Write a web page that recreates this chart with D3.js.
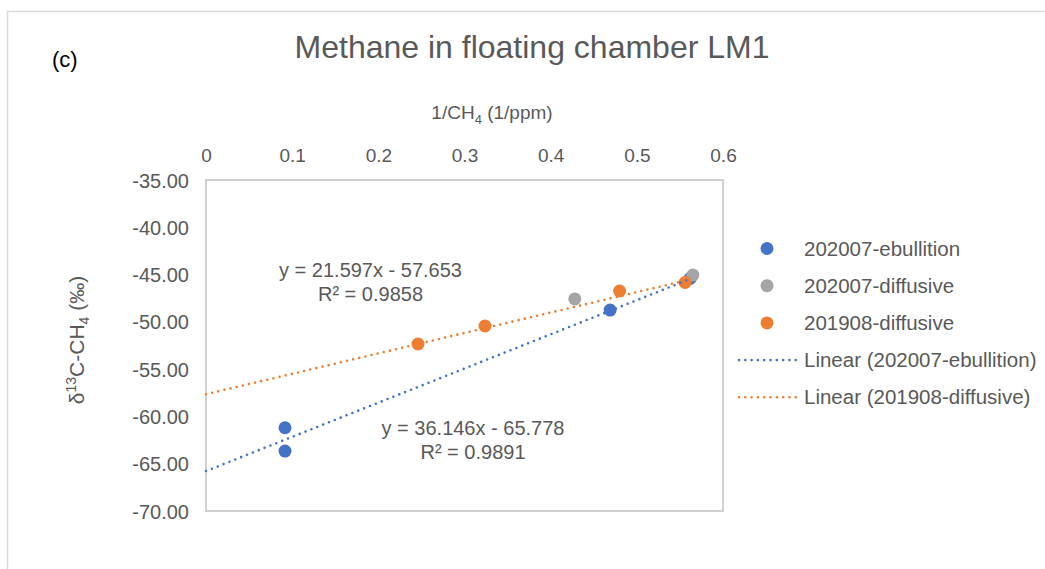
<!DOCTYPE html>
<html>
<head>
<meta charset="utf-8">
<script src="https://cdn.jsdelivr.net/npm/d3@7"></script>
<style>
  html, body { margin: 0; padding: 0; background: #fff; }
  svg { display: block; font-family: "Liberation Sans", Arial, sans-serif; }
</style>
</head>
<body>
<svg id="chart" width="1045" height="569"></svg>
<script>
// Series: 1/CH4 (1/ppm) against δ13C-CH4 (‰)
const ebullition2020X = [0.0917, 0.0917, 0.469, 0.562];
const ebullition2020Y = [-61.2, -63.66, -48.75, -45.4];
const diffusive2020X = [0.428, 0.565];
const diffusive2020Y = [-47.58, -45.05];
const diffusive2019X = [0.246, 0.3238, 0.480, 0.556];
const diffusive2019Y = [-52.34, -50.44, -46.74, -45.84];

// Linear trend equations (slope, intercept, R²)
const trendEbullition = [36.146, -65.778, 0.9891];
const trendDiffusive2019 = [21.597, -57.653, 0.9858];

const xTicks = [0, 0.1, 0.2, 0.3, 0.4, 0.5, 0.6];
const yTicks = [-35, -40, -45, -50, -55, -60, -65, -70];

const legendLabels = ["202007-ebullition", "202007-diffusive", "201908-diffusive",
                      "Linear (202007-ebullition)", "Linear (201908-diffusive)"];

const BLUE = "#4472C4", GREY = "#A5A5A5", ORANGE = "#ED7D31", TEXT = "#595959";

const svg = d3.select("#chart");

// outer chart frame
svg.append("rect").attr("x", 7.5).attr("y", 11.5).attr("width", 1100).attr("height", 600)
  .attr("fill", "none").attr("stroke", "#d9d9d9").attr("stroke-width", 1.5);

const plot = { left: 206, right: 723, top: 180, bottom: 511 };
const x = d3.scaleLinear().domain([0, 0.6]).range([plot.left, plot.right]);
const y = d3.scaleLinear().domain([-70, -35]).range([plot.bottom, plot.top]);

// title and panel tag
svg.append("text").attr("x", 532).attr("y", 58).attr("text-anchor", "middle")
  .attr("font-size", 32).attr("fill", TEXT).text("Methane in floating chamber LM1");
svg.append("text").attr("x", 52).attr("y", 67).attr("font-size", 22).attr("fill", "#000").text("(c)");

// top x axis
const xAxis = d3.axisTop(x).tickValues(xTicks).tickSize(0).tickPadding(0)
  .tickFormat(d => d === 0 ? "0" : d3.format(".1f")(d));
const gx = svg.append("g").attr("transform", `translate(0,${162})`).call(xAxis);
gx.select(".domain").remove();
gx.selectAll("text").attr("font-size", 19).attr("fill", TEXT).attr("dy", 0)
  .attr("font-family", "Liberation Sans, Arial, sans-serif");

// left y axis
const yAxis = d3.axisLeft(y).tickValues(yTicks).tickSize(0).tickPadding(0)
  .tickFormat(d3.format(".2f"));
const gy = svg.append("g").attr("transform", `translate(${189},0)`).call(yAxis);
gy.select(".domain").remove();
gy.selectAll("text").attr("font-size", 20).attr("fill", TEXT).attr("dy", "0.35em")
  .attr("font-family", "Liberation Sans, Arial, sans-serif")
  .text(d => d3.format(".2f")(d).replace("−", "-"));

// axis titles
const xt = svg.append("text").attr("x", 492).attr("y", 119).attr("text-anchor", "middle")
  .attr("font-size", 19).attr("fill", TEXT);
xt.append("tspan").text("1/CH");
xt.append("tspan").attr("font-size", 13).attr("dy", 5).text("4");
xt.append("tspan").attr("dy", -5).text(" (1/ppm)");

const yt = svg.append("text").attr("transform", "translate(84,340) rotate(-90)")
  .attr("text-anchor", "middle").attr("font-size", 21).attr("fill", TEXT);
yt.append("tspan").text("δ");
yt.append("tspan").attr("font-size", 14).attr("dy", -8).text("13");
yt.append("tspan").attr("dy", 8).text("C-CH");
yt.append("tspan").attr("font-size", 14).attr("dy", 5).text("4");
yt.append("tspan").attr("dy", -5).text(" (‰)");

// plot area border
svg.append("rect").attr("x", plot.left).attr("y", plot.top)
  .attr("width", plot.right - plot.left).attr("height", plot.bottom - plot.top)
  .attr("fill", "none").attr("stroke", "#d0d0d0").attr("stroke-width", 2);

// trend lines, drawn from x = 0 to each series' largest x
function trend(coef, xs, color) {
  const [m, b] = coef;
  const x1 = d3.max(xs);
  svg.append("line")
    .attr("x1", x(0)).attr("y1", y(b))
    .attr("x2", x(x1)).attr("y2", y(m * x1 + b))
    .attr("stroke", color).attr("stroke-width", 2.6)
    .attr("stroke-linecap", "round").attr("stroke-dasharray", "0 6.3");
}

// markers
function points(xs, ys, color) {
  svg.append("g").selectAll("circle").data(xs).join("circle")
    .attr("cx", (d) => x(d)).attr("cy", (d, i) => y(ys[i]))
    .attr("r", 6.5).attr("fill", color);
}
points(ebullition2020X, ebullition2020Y, BLUE);
points(diffusive2020X, diffusive2020Y, GREY);
points(diffusive2019X, diffusive2019Y, ORANGE);
trend(trendEbullition, ebullition2020X, BLUE);
trend(trendDiffusive2019, diffusive2019X, ORANGE);

// trend equations
function eqLabel(coef, cx, cy) {
  const [m, b, r2] = coef;
  const g = svg.append("g").attr("font-size", 20).attr("fill", TEXT).attr("text-anchor", "middle");
  g.append("text").attr("x", cx).attr("y", cy)
    .text(`y = ${m.toFixed(3)}x - ${Math.abs(b).toFixed(3)}`);
  g.append("text").attr("x", cx).attr("y", cy + 23.5).text(`R² = ${r2.toFixed(4)}`);
}
eqLabel(trendDiffusive2019, 370.5, 277);
eqLabel(trendEbullition, 473, 435);

// legend
const legendColors = [BLUE, GREY, ORANGE, BLUE, ORANGE];
const lg = svg.append("g");
legendLabels.forEach((lab, i) => {
  const cy = 248.5 + i * 37.2;
  if (i < 3) {
    lg.append("circle").attr("cx", 767).attr("cy", cy).attr("r", 6.5).attr("fill", legendColors[i]);
  } else {
    lg.append("line").attr("x1", 739).attr("x2", 796).attr("y1", cy).attr("y2", cy)
      .attr("stroke", legendColors[i]).attr("stroke-width", 2.6)
      .attr("stroke-linecap", "round").attr("stroke-dasharray", "0 6.3");
  }
  lg.append("text").attr("x", 804).attr("y", cy).attr("dy", "0.35em")
    .attr("font-size", 20.5).attr("fill", TEXT).text(lab);
});
</script>
</body>
</html>
